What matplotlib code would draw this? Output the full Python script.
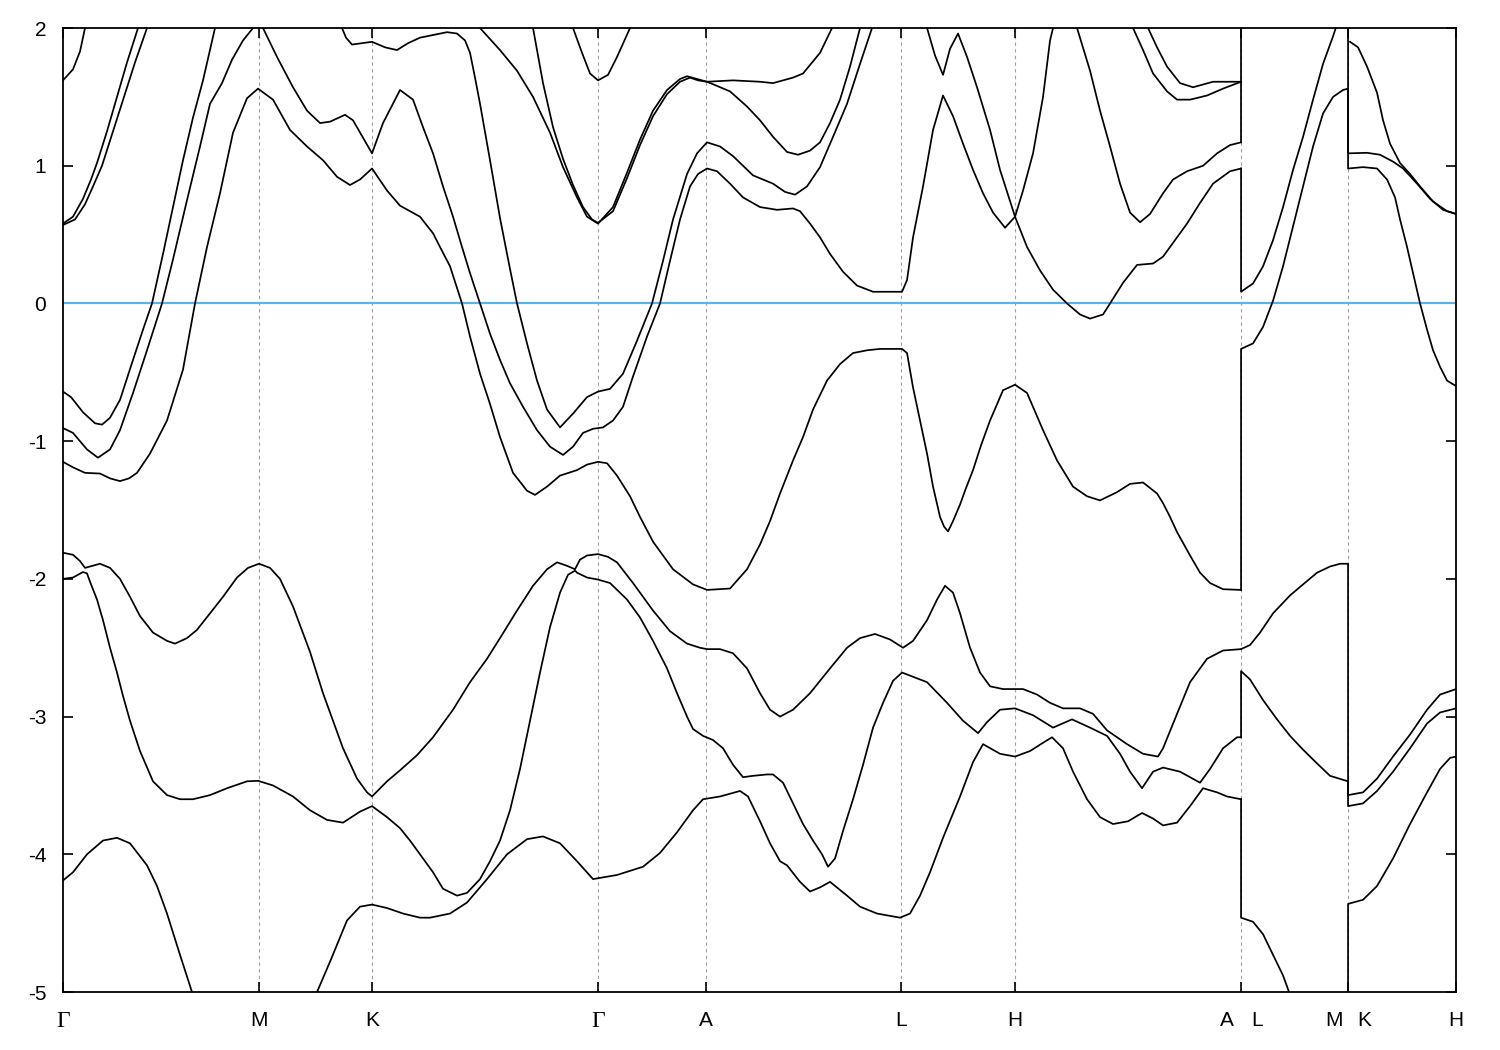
import matplotlib
matplotlib.use("Agg")
import matplotlib.pyplot as plt

plt.rcParams["font.family"] = ["Liberation Sans", "DejaVu Sans"]
plt.rcParams["axes.unicode_minus"] = False

# high-symmetry points along the path (path length, arbitrary units)
kpath_pos = [0, 196, 309, 535, 643, 838, 952, 1178, 1285, 1393]
kpath_names = ["Γ", "M", "K", "Γ", "A", "L", "H", "A|L", "M|K", "H"]

e_min, e_max = -5, 2
fermi_level = 0.0

# bands as (k, E) pairs.
# a repeated k means a jump in the path (A|L and M|K)
# --- Γ-M-K-Γ-A-L-H-A ---
band_gam_a = [(0, 1.62), (10, 1.70), (17, 1.83), (22, 2.0), (29, 2.3)]
band_u2 = [(0, 0.58), (10, 0.63), (20, 0.76), (28, 0.9), (34, 1.02), (44, 1.25),
           (54, 1.5), (64, 1.75), (75, 2.0), (80, 2.15)]
band_u3 = [(0, 0.57), (12, 0.61), (22, 0.72), (30, 0.85), (39, 1.0), (50, 1.25),
           (61, 1.5), (72, 1.75), (84, 2.0), (89, 2.12)]
band_b4 = [(0, -0.64), (8, -0.68), (20, -0.79), (32, -0.87), (39, -0.88), (47, -0.83),
           (57, -0.70), (70, -0.41), (80, -0.19), (89, 0.0), (100, 0.36), (110, 0.70),
           (120, 1.04), (130, 1.35), (140, 1.62), (152, 2.0), (160, 2.25)]
band_b5 = [(0, -0.905), (10, -0.94), (24, -1.06), (35, -1.12), (47, -1.06), (57, -0.92),
           (70, -0.65), (84, -0.34), (99, 0.0), (110, 0.32), (124, 0.75), (137, 1.14),
           (147, 1.45), (159, 1.60), (169, 1.77), (180, 1.91), (190, 2.0), (196, 2.04),
           (200, 2.0), (214, 1.79), (230, 1.57), (244, 1.40), (257, 1.31), (267, 1.32),
           (282, 1.37), (290, 1.33), (309, 1.09), (320, 1.31), (337, 1.55), (350, 1.48),
           (360, 1.28), (370, 1.09), (380, 0.85), (390, 0.63), (399, 0.41), (407, 0.22),
           (417, 0.0), (427, -0.22), (437, -0.41), (447, -0.58), (460, -0.75),
           (474, -0.92), (487, -1.04), (500, -1.10), (510, -1.04), (520, -0.94),
           (530, -0.91), (540, -0.90), (550, -0.85), (560, -0.75), (570, -0.53),
           (584, -0.24), (597, 0.0), (607, 0.31), (617, 0.61), (627, 0.85), (635, 0.94),
           (644, 0.98), (654, 0.96), (667, 0.87), (680, 0.77), (697, 0.70), (714, 0.68),
           (730, 0.69), (737, 0.67), (747, 0.58), (757, 0.48), (767, 0.36), (780, 0.23),
           (794, 0.13), (810, 0.085), (839, 0.085), (844, 0.17), (850, 0.48), (860, 0.85),
           (870, 1.26), (880, 1.51), (890, 1.36), (900, 1.16), (910, 0.97), (920, 0.80),
           (930, 0.66), (942, 0.55), (952, 0.63), (960, 0.82), (970, 1.09), (980, 1.50),
           (987, 1.91), (990, 2.0), (994, 2.2)]
band_u6 = [(0, -1.15), (10, -1.19), (22, -1.23), (37, -1.235), (47, -1.27), (57, -1.29),
           (66, -1.27), (74, -1.23), (87, -1.09), (104, -0.85), (120, -0.48), (132, 0.0),
           (144, 0.41), (157, 0.80), (170, 1.24), (184, 1.49), (195, 1.56), (210, 1.48),
           (227, 1.26), (244, 1.14), (260, 1.04), (274, 0.92), (287, 0.86), (297, 0.90),
           (309, 0.98), (324, 0.82), (337, 0.71), (357, 0.63), (370, 0.51), (377, 0.41),
           (387, 0.27), (399, 0.0), (407, -0.24), (417, -0.51), (427, -0.73), (437, -0.97),
           (450, -1.23), (464, -1.36), (472, -1.39), (484, -1.33), (497, -1.25),
           (514, -1.21), (524, -1.17), (535, -1.15), (544, -1.16), (554, -1.25),
           (567, -1.40), (577, -1.55), (590, -1.73), (610, -1.93), (630, -2.04),
           (644, -2.08), (667, -2.07), (684, -1.93), (697, -1.75), (707, -1.58),
           (717, -1.38), (730, -1.14), (740, -0.97), (750, -0.77), (764, -0.56),
           (777, -0.44), (790, -0.36), (804, -0.34), (817, -0.33), (839, -0.33),
           (844, -0.36), (850, -0.61), (857, -0.85), (864, -1.09), (870, -1.33),
           (877, -1.55), (881, -1.62), (885, -1.655), (890, -1.58), (897, -1.46),
           (903, -1.34), (910, -1.21), (918, -1.03), (927, -0.85), (940, -0.63),
           (952, -0.59), (964, -0.65), (980, -0.92), (994, -1.14), (1010, -1.33),
           (1024, -1.40), (1037, -1.43), (1054, -1.37), (1067, -1.31), (1080, -1.30),
           (1094, -1.38), (1100, -1.45), (1107, -1.55), (1114, -1.66), (1127, -1.83),
           (1137, -1.955), (1147, -2.03), (1160, -2.075), (1178, -2.08)]
band_hump = [(275, 2.05), (279, 2.0), (283, 1.93), (289, 1.88), (299, 1.89), (309, 1.90),
             (322, 1.86), (334, 1.84), (345, 1.89), (357, 1.93), (384, 1.97), (394, 1.96),
             (402, 1.91), (407, 1.82), (412, 1.64), (417, 1.45), (427, 1.04), (437, 0.62),
             (447, 0.25), (454, 0.0), (464, -0.29), (474, -0.56), (484, -0.77),
             (497, -0.90), (510, -0.80), (524, -0.68), (535, -0.64), (547, -0.62),
             (560, -0.51), (574, -0.27), (589, 0.0), (600, 0.31), (610, 0.61), (624, 0.94),
             (634, 1.09), (644, 1.17), (657, 1.14), (670, 1.07), (690, 0.93), (710, 0.87),
             (722, 0.81), (732, 0.79), (744, 0.85), (757, 0.99), (770, 1.21), (784, 1.45),
             (797, 1.74), (809, 2.0), (815, 2.2)]
band_line1 = [(413, 2.1), (417, 2.0), (437, 1.84), (454, 1.69), (470, 1.50), (487, 1.24),
              (500, 0.99), (514, 0.77), (524, 0.63), (535, 0.58), (550, 0.70), (564, 0.95),
              (577, 1.19), (590, 1.40), (604, 1.55), (617, 1.63), (624, 1.65), (634, 1.63),
              (644, 1.61), (670, 1.62), (697, 1.61), (710, 1.60), (730, 1.64), (740, 1.67),
              (757, 1.82), (769, 2.0), (773, 2.15)]
band_line2 = [(467, 2.25), (470, 2.0), (480, 1.60), (490, 1.28), (500, 1.05), (510, 0.86),
              (520, 0.70), (529, 0.61), (535, 0.585), (550, 0.67), (564, 0.91), (577, 1.15),
              (590, 1.36), (604, 1.52), (617, 1.61), (627, 1.64), (635, 1.62), (644, 1.61),
              (667, 1.54), (684, 1.43), (697, 1.33), (710, 1.21), (724, 1.10), (735, 1.08),
              (747, 1.11), (757, 1.17), (767, 1.31), (777, 1.48), (787, 1.72), (797, 2.0),
              (801, 2.15)]
band_gam_b = [(507, 2.15), (510, 2.0), (519, 1.82), (527, 1.67), (535, 1.62), (545, 1.66),
              (554, 1.79), (567, 2.0), (570, 2.1)]
band_v_l = [(859, 2.2), (864, 2.0), (872, 1.80), (880, 1.66), (887, 1.85), (895, 1.96),
            (904, 1.79), (914, 1.57), (927, 1.26), (937, 0.97), (952, 0.63), (964, 0.41),
            (977, 0.24), (990, 0.10), (1004, 0.0), (1017, -0.08), (1027, -0.11),
            (1040, -0.08), (1047, 0.0), (1060, 0.15), (1074, 0.28), (1090, 0.29),
            (1100, 0.34), (1110, 0.44), (1124, 0.58), (1137, 0.73), (1150, 0.87),
            (1167, 0.96), (1178, 0.98)]
band_h_top = [(1011, 2.1), (1014, 2.0), (1027, 1.69), (1037, 1.40), (1047, 1.14),
              (1057, 0.87), (1067, 0.66), (1077, 0.59), (1087, 0.65), (1100, 0.80),
              (1110, 0.90), (1124, 0.96), (1140, 1.00), (1154, 1.09), (1167, 1.15),
              (1178, 1.17)]
band_h_a1 = [(1067, 2.1), (1070, 2.0), (1080, 1.84), (1090, 1.67), (1104, 1.54),
             (1114, 1.48), (1127, 1.48), (1144, 1.51), (1160, 1.56), (1178, 1.61)]
band_h_a2 = [(1082, 2.1), (1085, 2.0), (1094, 1.86), (1104, 1.72), (1117, 1.60),
             (1130, 1.57), (1150, 1.61), (1167, 1.61), (1178, 1.61)]
band_l1 = [(0, -1.81), (10, -1.825), (17, -1.87), (22, -1.92), (27, -1.91), (37, -1.89),
           (47, -1.92), (57, -2.0), (67, -2.13), (77, -2.27), (90, -2.39), (104, -2.45),
           (112, -2.47), (124, -2.43), (134, -2.37), (147, -2.25), (160, -2.13),
           (174, -1.99), (185, -1.92), (196, -1.89), (207, -1.92), (217, -2.0),
           (230, -2.20), (247, -2.53), (260, -2.83), (270, -3.03), (280, -3.23),
           (294, -3.45), (304, -3.55), (309, -3.58), (324, -3.47), (337, -3.39),
           (354, -3.28), (370, -3.15), (390, -2.95), (407, -2.75), (424, -2.58),
           (437, -2.43), (454, -2.23), (470, -2.05), (484, -1.93), (494, -1.88),
           (504, -1.905), (512, -1.93), (517, -1.86), (524, -1.83), (535, -1.82),
           (545, -1.84), (554, -1.88), (570, -2.03), (590, -2.23), (607, -2.38),
           (624, -2.47), (637, -2.50), (644, -2.51), (657, -2.51), (670, -2.54),
           (684, -2.65), (697, -2.83), (707, -2.95), (717, -3.0), (730, -2.95),
           (747, -2.83), (767, -2.65), (784, -2.50), (797, -2.43), (812, -2.40),
           (827, -2.44), (840, -2.50), (850, -2.45), (864, -2.30), (874, -2.15),
           (882, -2.05), (890, -2.10), (897, -2.25), (907, -2.50), (917, -2.68),
           (927, -2.78), (940, -2.80), (960, -2.80), (974, -2.84), (987, -2.90),
           (1000, -2.94), (1017, -2.94), (1030, -2.98), (1044, -3.10), (1054, -3.15),
           (1064, -3.20), (1080, -3.27), (1095, -3.29), (1100, -3.23), (1114, -2.98),
           (1127, -2.75), (1144, -2.58), (1160, -2.52), (1178, -2.51)]
band_l2 = [(0, -2.0), (10, -1.99), (20, -1.95), (24, -1.96), (27, -2.02), (34, -2.15),
           (40, -2.30), (47, -2.50), (54, -2.68), (60, -2.85), (67, -3.03), (77, -3.25),
           (90, -3.47), (104, -3.57), (117, -3.60), (130, -3.60), (147, -3.57),
           (164, -3.52), (184, -3.47), (195, -3.466), (210, -3.50), (230, -3.58),
           (247, -3.68), (264, -3.75), (280, -3.77), (297, -3.69), (309, -3.65),
           (324, -3.73), (337, -3.81), (347, -3.90), (357, -4.0), (370, -4.13),
           (380, -4.25), (394, -4.30), (404, -4.28), (417, -4.18), (427, -4.05),
           (437, -3.90), (447, -3.68), (457, -3.38), (467, -3.03), (477, -2.68),
           (487, -2.35), (497, -2.10), (505, -1.97), (512, -1.94), (514, -1.955),
           (524, -1.99), (535, -2.005), (547, -2.03), (564, -2.15), (577, -2.28),
           (590, -2.45), (604, -2.65), (614, -2.83), (624, -3.0), (630, -3.09),
           (640, -3.14), (650, -3.17), (660, -3.23), (670, -3.35), (680, -3.44),
           (690, -3.43), (704, -3.42), (710, -3.42), (720, -3.48), (730, -3.63),
           (740, -3.78), (750, -3.90), (759, -4.0), (765, -4.09), (772, -4.03),
           (780, -3.83), (790, -3.60), (800, -3.35), (810, -3.08), (820, -2.90),
           (830, -2.74), (839, -2.68), (864, -2.75), (884, -2.90), (900, -3.03),
           (915, -3.12), (924, -3.04), (937, -2.95), (952, -2.94), (970, -2.99),
           (990, -3.08), (1009, -3.02), (1027, -3.08), (1044, -3.14), (1057, -3.27),
           (1067, -3.40), (1079, -3.52), (1090, -3.40), (1100, -3.37), (1117, -3.40),
           (1137, -3.48), (1147, -3.38), (1160, -3.23), (1174, -3.15), (1178, -3.15)]
band_l3 = [(0, -4.19), (10, -4.13), (24, -4.0), (40, -3.90), (54, -3.88), (67, -3.92),
           (84, -4.08), (94, -4.23), (104, -4.43), (117, -4.73), (129, -5.0), (135, -5.15)]
band_l4 = [(250, -5.12), (254, -5.0), (267, -4.78), (284, -4.48), (297, -4.38),
           (309, -4.365), (324, -4.39), (340, -4.43), (357, -4.46), (367, -4.46),
           (387, -4.43), (404, -4.35), (424, -4.18), (444, -4.0), (464, -3.89),
           (480, -3.87), (497, -3.92), (514, -4.05), (530, -4.18), (554, -4.15),
           (580, -4.09), (597, -3.99), (614, -3.84), (630, -3.68), (640, -3.60),
           (657, -3.58), (677, -3.54), (685, -3.58), (697, -3.76), (707, -3.92),
           (717, -4.05), (724, -4.08), (737, -4.20), (747, -4.27), (757, -4.24),
           (767, -4.20), (784, -4.30), (797, -4.38), (814, -4.43), (837, -4.46),
           (847, -4.43), (857, -4.30), (867, -4.13), (880, -3.88), (897, -3.58),
           (910, -3.33), (920, -3.20), (937, -3.27), (952, -3.29), (967, -3.25),
           (980, -3.19), (989, -3.15), (1000, -3.23), (1010, -3.40), (1024, -3.60),
           (1037, -3.73), (1050, -3.78), (1065, -3.76), (1079, -3.70), (1090, -3.74),
           (1100, -3.79), (1114, -3.77), (1127, -3.65), (1140, -3.52), (1154, -3.55),
           (1164, -3.58), (1178, -3.60)]

# --- L-M and K-H (start with the value before the jump) ---
band_lm_a = [(1178, 1.17), (1178, 2.5)]
band_lm_b = [(1178, 0.98), (1178, 0.085), (1190, 0.145), (1200, 0.27), (1210, 0.46),
             (1220, 0.70), (1230, 0.97), (1240, 1.21), (1250, 1.48), (1260, 1.74),
             (1270, 1.94), (1275, 2.05), (1280, 2.2)]
band_lm_c = [(1178, -2.08), (1178, -0.33), (1190, -0.29), (1200, -0.17), (1210, 0.02),
             (1220, 0.27), (1230, 0.56), (1240, 0.85), (1250, 1.14), (1260, 1.38),
             (1270, 1.50), (1280, 1.55), (1285, 1.56), (1285, 0.98), (1300, 0.99),
             (1314, 0.98), (1324, 0.90), (1332, 0.77), (1337, 0.61), (1344, 0.41),
             (1350, 0.22), (1357, 0.0), (1364, -0.19), (1370, -0.34), (1377, -0.46),
             (1384, -0.56), (1393, -0.60)]
band_lm_d = [(1178, -2.51), (1187, -2.48), (1197, -2.39), (1210, -2.25), (1227, -2.12),
             (1240, -2.04), (1254, -1.955), (1267, -1.91), (1277, -1.89), (1285, -1.89),
             (1285, -3.57), (1300, -3.55), (1314, -3.45), (1330, -3.29), (1347, -3.13),
             (1364, -2.95), (1377, -2.84), (1393, -2.80)]
band_lm_e = [(1178, -3.15), (1178, -2.67), (1187, -2.73), (1200, -2.88), (1214, -3.02),
             (1227, -3.14), (1240, -3.24), (1254, -3.34), (1267, -3.43), (1285, -3.47),
             (1285, -3.65), (1300, -3.63), (1314, -3.54), (1330, -3.40), (1347, -3.23),
             (1364, -3.05), (1377, -2.97), (1393, -2.94)]
band_lm_f = [(1178, -3.60), (1178, -4.46), (1190, -4.49), (1200, -4.58), (1210, -4.73),
             (1220, -4.88), (1226, -5.0), (1230, -5.1)]
band_kh_a = [(1285, -5.5), (1285, -4.36), (1300, -4.33), (1314, -4.23), (1330, -4.03),
             (1347, -3.78), (1364, -3.55), (1377, -3.38), (1387, -3.30), (1393, -3.29)]
band_kh_b = [(1285, 2.5), (1285, 1.09), (1304, 1.094), (1317, 1.08), (1330, 1.03),
             (1340, 0.98), (1354, 0.87), (1367, 0.76), (1380, 0.68), (1393, 0.65)]
band_kh_c = [(1287, 1.90), (1295, 1.86), (1304, 1.72), (1314, 1.53), (1320, 1.33),
             (1327, 1.16), (1337, 1.02), (1347, 0.94), (1357, 0.85), (1370, 0.74),
             (1384, 0.67), (1393, 0.65)]

bands = [band_gam_a, band_u2, band_u3, band_b4, band_b5, band_u6, band_hump,
         band_line1, band_line2, band_gam_b, band_v_l, band_h_top, band_h_a1,
         band_h_a2, band_l1, band_l2, band_l3, band_l4,
         band_lm_a, band_lm_b, band_lm_c, band_lm_d, band_lm_e, band_lm_f,
         band_kh_a, band_kh_b, band_kh_c]

fig = plt.figure(figsize=(15, 10.5), dpi=100)
ax = fig.add_axes([0.042, 0.0552, 0.9287, 0.9181])

# dotted guides at the high-symmetry points
for k in kpath_pos[1:-1]:
    ax.axvline(k, color="#a0a0a0", lw=0.8, ls=(0, (3, 3)), zorder=1)

ax.axhline(fermi_level, color="#56b4e9", lw=1.6, zorder=2)

for b in bands:
    ks = [p[0] for p in b]
    es = [p[1] for p in b]
    ax.plot(ks, es, color="black", lw=1.25, zorder=3, solid_joinstyle="round")

ax.set_xlim(kpath_pos[0], kpath_pos[-1])
ax.set_ylim(e_min, e_max)

ax.set_yticks(range(e_min, e_max + 1))
ax.tick_params(axis="y", direction="in", length=7, width=1.2,
               left=True, right=True, labelsize=15, pad=12)

# ticks at the points, labels split where the path jumps
ax.set_xticks(kpath_pos)
ax.set_xticklabels([])
ax.tick_params(axis="x", which="major", direction="in", length=7, width=1.2,
               top=True, bottom=True)

lab_pos, lab_txt = [], []
for k, name in zip(kpath_pos, kpath_names):
    if "|" in name:
        left, right = name.split("|")
        lab_pos += [k - 14, k + 16]
        lab_txt += [left, right]
    else:
        lab_pos.append(k)
        lab_txt.append(name)

ax.xaxis.remove_overlapping_locs = False
ax.set_xticks(lab_pos, minor=True)
ax.set_xticklabels(lab_txt, minor=True)
ax.tick_params(axis="x", which="minor", length=0, labelsize=15, pad=14)
for t in ax.get_xticklabels(minor=True):
    if t.get_text() == "Γ":
        t.set_fontfamily(["Liberation Serif", "DejaVu Serif"])
        t.set_fontsize(17)

for s in ax.spines.values():
    s.set_linewidth(1.3)

fig.savefig("out.png", dpi=100)
